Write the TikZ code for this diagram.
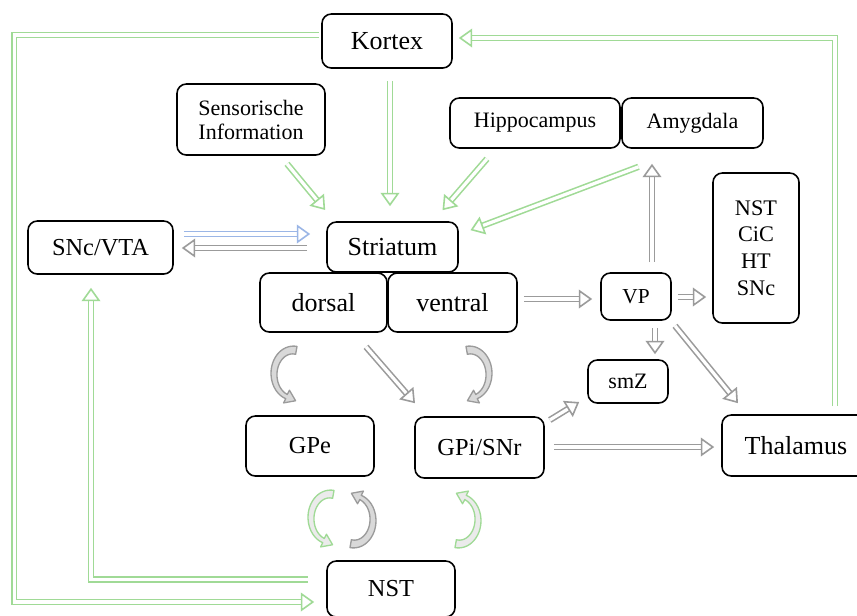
\documentclass[tikz,border=0pt]{standalone}
\usepackage{fontspec}
\setmainfont{Liberation Serif}
\usetikzlibrary{arrows.meta,calc}
\definecolor{lgreen}{RGB}{160,218,150}
\definecolor{lgray}{RGB}{155,155,155}
\definecolor{lblue}{RGB}{155,182,230}
\tikzset{
  box/.style={draw, line width=1.2pt, rounded corners=7pt, inner sep=0pt, align=center},
  fbig/.style={font=\fontsize{19.5}{23}\selectfont},
  fmid/.style={font=\fontsize{18.3}{22}\selectfont},
  fsml/.style={font=\fontsize{16.5}{18}\selectfont},
  conn/.style={draw=#1, double=white, line width=1.2pt, double distance=2.4pt,
    -{Triangle[open, fill=white, width=14pt, length=10pt, line width=1.2pt]}},
  % curved band arrow: tail at top, bulging left, head at bottom pointing right
  pics/bend/.style 2 args={code={
    \filldraw[draw=#1, fill=#2, line width=1pt, line join=round]
      plot[domain=280:110, samples=36, smooth]
        ({(19+(4.5+3.5*(\x-110)/170)/2)*cos(\x)},{(24+(4.5+3.5*(\x-110)/170)/2)*sin(\x)})
      -- (-9.42,28.91) -- (2.59,26.73) -- (-3.57,16.19)
      -- plot[domain=110:280, samples=36, smooth]
        ({(19-(4.5+3.5*(\x-110)/170)/2)*cos(\x)},{(24-(4.5+3.5*(\x-110)/170)/2)*sin(\x)})
      -- cycle;
  }}
}
\begin{document}
\begin{tikzpicture}[x=0.75pt, y=-0.75pt]
\useasboundingbox (0,0) rectangle (857,615);

% nodes
\node[box, fbig, minimum width=97.5pt, minimum height=40.5pt] (Kortex) at (387,41) {Kortex};
\node[box, fsml, minimum width=111pt, minimum height=53.25pt] (Sens) at (251,119.5) {Sensorische\\Information};
\node[box, fsml, minimum width=127.5pt, minimum height=37.5pt] (Hippo) at (535,123) {Hippocampus};
\node[box, fsml, minimum width=105.75pt, minimum height=37.5pt] (Amyg) at (692.5,123) {Amygdala};
\node[box, minimum width=64.5pt, minimum height=112.5pt, font=\fontsize{16.7}{20}\selectfont] (NSTbox) at (756,248) {NST\\CiC\\HT\\SNc};
\node[box, fmid, minimum width=108.75pt, minimum height=39.75pt] (SNc) at (100.5,247.5) {SNc/VTA};
\node[box, fbig, minimum width=98.25pt, minimum height=37.5pt] (Striatum) at (392.5,247) {Striatum};
\node[box, fbig, minimum width=95.25pt, minimum height=44.25pt] (dorsal) at (323.5,302.5) {dorsal};
\node[box, fbig, minimum width=96.75pt, minimum height=44.25pt] (ventral) at (452.5,302.5) {ventral};
\node[box, minimum width=52.5pt, minimum height=35.25pt, font=\fontsize{16}{18}\selectfont] (VP) at (636,296.5) {VP};
\node[box, fsml, minimum width=60pt, minimum height=32.25pt] (smZ) at (628,381.5) {smZ};
\node[box, fmid, minimum width=96pt, minimum height=45pt] (GPe) at (310,446) {GPe};
\node[box, fmid, minimum width=96.75pt, minimum height=45.75pt] (GPi) at (479.5,447.5) {GPi/SNr};
\node[box, fbig, minimum width=111pt, minimum height=45.75pt] (Thal) at (796,445.5) {Thalamus};
\node[box, fmid, minimum width=96pt, minimum height=42pt] (NST) at (391,589) {NST};

% long loops
\draw[conn=lgreen] ($(Kortex.west)+(-2,-6)$) -- ++(-305,0) |- ($(NST.west)+(-12,13)$);
\draw[conn=lgreen] ($(NST.west)+(-18,-9.5)$) -| ($(SNc.south)+(-9.5,13)$);
\draw[conn=lgreen] ($(Thal.north)+(39,-8)$) |- ($(Kortex.east)+(6,-3)$);

% inputs to the striatum
\draw[conn=lgreen] ($(Kortex.south)+(3,12)$) -- ($(Striatum.north)+(-2.5,-15)$);
\draw[conn=lgreen] ($(Sens.south)+(36,8)$) -- ($(Striatum.west)+(-1,-37)$);
\draw[conn=lgreen] ($(Hippo.south)+(-48,10)$) -- ($(Striatum.north)+(50,-11)$);
\draw[conn=lgreen] ($(Amyg.south)+(-54,18)$) -- ($(Striatum.north)+(78,9)$);
\draw[conn=lblue] ($(SNc.east)+(10,-13.5)$) -- ($(Striatum.west)+(-16,-13)$);
\draw[conn=lgray] ($(Striatum.west)+(-19,1)$) -- ($(SNc.east)+(8,0.5)$);

% ventral pallidum and outputs
\draw[conn=lgray] ($(ventral.east)+(6,-3.5)$) -- ($(VP.west)+(-8,2.5)$);
\draw[conn=lgray] ($(VP.north)+(16,-10)$) -- ($(Amyg.south)+(-40.5,15)$);
\draw[conn=lgray] ($(VP.east)+(6,0.5)$) -- ($(NSTbox.west)+(-6,49)$);
\draw[conn=lgray] ($(VP.south)+(19,7)$) -- ($(smZ.north)+(27,-5)$);
\draw[conn=lgray] ($(VP.south)+(39,5)$) -- ($(Thal.north)+(-58,-11)$);
\draw[conn=lgray] ($(dorsal.south)+(42.5,14)$) -- ($(GPi.north)+(-64.5,-13)$);
\draw[conn=lgray] ($(GPi.east)+(5,-27.5)$) -- ($(smZ.west)+(-8,20.5)$);
\draw[conn=lgray] ($(GPi.east)+(9,-0.5)$) -- ($(Thal.west)+(-7,1.5)$);

% curved arrows
\pic at (293,374) {bend={lgray}{black!15}};
\pic[xscale=-1] at (470,374) {bend={lgray}{black!15}};
\pic at (330,518) {bend={lgreen}{black!8}};
\pic[rotate=180] at (354,520) {bend={lgray}{black!15}};
\pic[rotate=180] at (459,520) {bend={lgreen}{black!8}};
\end{tikzpicture}
\end{document}
